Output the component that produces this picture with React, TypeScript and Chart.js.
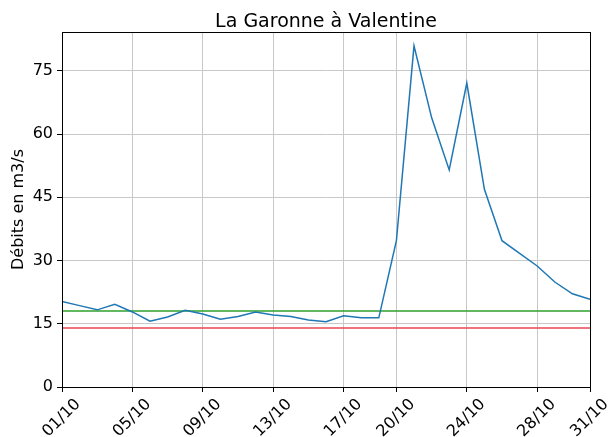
import React, { useEffect, useRef } from "react";
import { Chart, registerables } from "chart.js";

Chart.register(...registerables);

const chartTitle = "La Garonne à Valentine";
const yAxisTitle = "Débits en m3/s";
const dayLabels = [
  "01/10", "02/10", "03/10", "04/10", "05/10", "06/10", "07/10", "08/10", "09/10", "10/10",
  "11/10", "12/10", "13/10", "14/10", "15/10", "16/10", "17/10", "18/10", "19/10", "20/10",
  "21/10", "22/10", "23/10", "24/10", "25/10", "26/10", "27/10", "28/10", "29/10", "30/10", "31/10",
];
const flowValues = [
  20.3, 19.3, 18.3, 19.6, 17.8, 15.6, 16.6, 18.2, 17.3, 16.1,
  16.7, 17.8, 17.1, 16.7, 15.9, 15.5, 16.9, 16.4, 16.4, 34.7,
  80.9, 63.9, 51.5, 72.1, 46.9, 34.7, 31.7, 28.7, 24.9, 22.1, 20.8,
];
const greenThreshold = 18;
const redThreshold = 14;
const xTickDays = [1, 5, 9, 13, 17, 20, 24, 28, 31];
const yTicks = [0, 15, 30, 45, 60, 75];

const FONT = "'DejaVu Sans', sans-serif";

const framePlugin = {
  id: "frame",
  afterDatasetsDraw(chart: any) {
    const { ctx, chartArea } = chart;
    ctx.save();
    ctx.strokeStyle = "#000";
    ctx.lineWidth = 1;
    ctx.strokeRect(
      Math.round(chartArea.left) + 0.5,
      Math.round(chartArea.top) + 0.5,
      Math.round(chartArea.right - chartArea.left),
      Math.round(chartArea.bottom - chartArea.top)
    );
    ctx.restore();
  },
  afterDraw(chart: any) {
    const { ctx, chartArea } = chart;
    ctx.save();
    ctx.fillStyle = "#000";
    ctx.font = `19px ${FONT}`;
    ctx.textAlign = "center";
    ctx.textBaseline = "alphabetic";
    ctx.fillText(chartTitle, (chartArea.left + chartArea.right) / 2, 27);
    ctx.restore();
  },
};

export default function App() {
  const ref = useRef<HTMLCanvasElement | null>(null);
  useEffect(() => {
    document.body.style.margin = "0";
    const points = flowValues.map((v, i) => ({ x: i + 1, y: v }));
    const chart = new Chart(ref.current as HTMLCanvasElement, {
      type: "line",
      data: {
        datasets: [
          {
            data: points,
            borderColor: "#1f77b4",
            borderWidth: 1.5,
            pointRadius: 0,
            tension: 0,
          },
          {
            data: [{ x: 1, y: greenThreshold }, { x: 31, y: greenThreshold }],
            borderColor: "#2ca02c",
            borderWidth: 1.5,
            pointRadius: 0,
          },
          {
            data: [{ x: 1, y: redThreshold }, { x: 31, y: redThreshold }],
            borderColor: "#e8474f",
            borderWidth: 1.5,
            pointRadius: 0,
          },
        ],
      },
      options: {
        animation: false,
        responsive: false,
        layout: { padding: { left: 0, right: 22, top: 32, bottom: 0 } },
        plugins: {
          legend: { display: false },
          tooltip: { enabled: false },
          title: { display: false },
        },
        scales: {
          x: {
            type: "linear",
            min: 1,
            max: 31,
            afterBuildTicks: (scale: any) => {
              scale.ticks = xTickDays.map((v) => ({ value: v }));
            },
            afterFit: (scale: any) => {
              scale.height = 50;
            },
            ticks: {
              autoSkip: false,
              maxRotation: 45,
              minRotation: 45,
              color: "#000",
              padding: 3,
              labelOffset: 16,
              font: { family: FONT, size: 16 },
              callback: (v: any) => dayLabels[Number(v) - 1],
            },
            grid: { color: "#c8c8c8", lineWidth: 1, tickColor: "#000", tickLength: 5 },
            border: { color: "#000" },
          },
          y: {
            min: 0,
            max: 84.2,
            afterBuildTicks: (scale: any) => {
              scale.ticks = yTicks.map((v) => ({ value: v }));
            },
            afterFit: (scale: any) => {
              scale.width = 62;
            },
            ticks: {
              color: "#000",
              padding: 4,
              font: { family: FONT, size: 16 },
            },
            grid: { color: "#c8c8c8", lineWidth: 1, tickColor: "#000", tickLength: 5 },
            border: { color: "#000" },
            title: {
              display: true,
              text: yAxisTitle,
              color: "#000",
              font: { family: FONT, size: 16 },
              padding: { top: 9, bottom: 0 },
            },
          },
        },
      },
      plugins: [framePlugin],
    } as any);
    return () => chart.destroy();
  }, []);
  return (
    <div style={{ position: "absolute", left: 0, top: 0, width: 612, height: 437 }}>
      <canvas ref={ref} width={612} height={437} />
    </div>
  );
}
